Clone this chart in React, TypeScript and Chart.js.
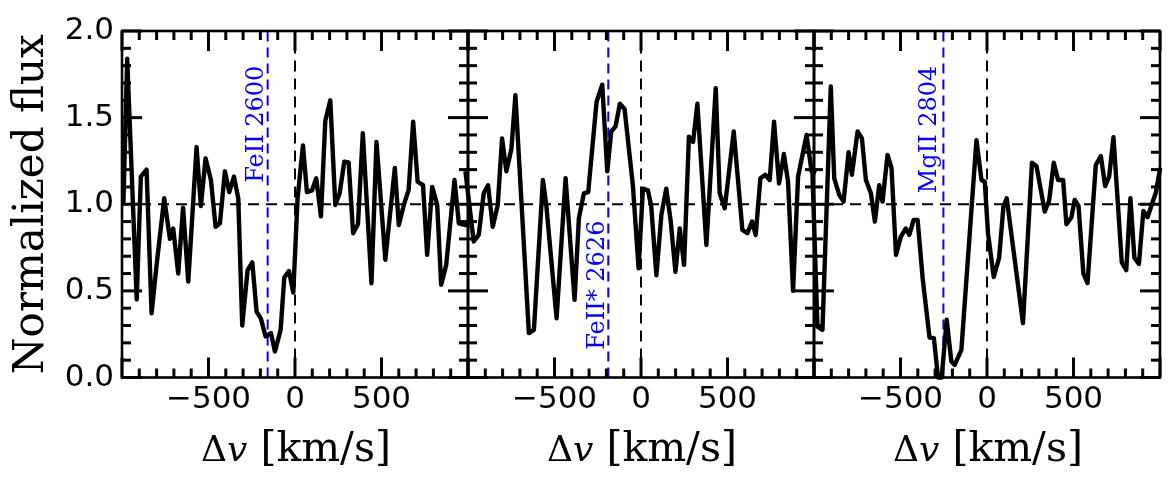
import React, { useEffect, useRef } from 'react';
import { Chart, registerables } from 'chart.js';

Chart.register(...registerables);

// ---------------------------------------------------------------------------
// Data: velocity offsets (km/s) and normalized flux for each transition
// ---------------------------------------------------------------------------
const velocityTicks = [-500, 0, 500];
const fluxTicks = [0, 0.5, 1.0, 1.5, 2.0];

const fe2600Velocity = [
  -992, -970, -915, -891, -858, -829, -800, -756, -723, -704, -675, -647, -617, -569, -544, -517,
  -486, -459, -434, -405, -380, -353, -328, -305, -274, -247, -222, -197, -170, -139, -116, -83,
  -62, -35, -10, 15, 46, 69, 98, 123, 150, 175, 204, 233, 258, 285, 310, 336, 364, 392, 442, 471,
  522, 577, 600, 629, 657, 683, 709, 740, 764, 793, 822, 845, 874, 922, 947, 986, 1020,
];
const fe2600Flux = [
  1.0, 1.84, 0.45, 1.16, 1.2, 0.37, 0.65, 1.035, 0.8, 0.86, 0.6, 0.98, 0.554, 1.33, 0.99, 1.265,
  1.14, 0.87, 0.89, 1.19, 1.07, 1.16, 1.035, 0.3, 0.62, 0.665, 0.38, 0.34, 0.237, 0.256, 0.15, 0.275,
  0.577, 0.615, 0.49, 1.035, 1.34, 1.07, 1.08, 1.15, 0.93, 1.48, 1.6, 0.996, 1.063, 1.246, 1.242,
  0.833, 0.885, 1.41, 0.544, 1.36, 0.68, 1.21, 0.88, 0.996, 1.083, 1.477, 1.13, 1.11, 0.708, 1.1,
  0.996, 0.535, 0.65, 1.14, 0.89, 0.88, 0.88,
];

const fe2626Velocity = [
  -1015, -967, -938, -909, -884, -857, -828, -803, -778, -749, -726, -648, -619, -567, -548, -488,
  -436, -384, -359, -330, -305, -257, -224, -195, -172, -147, -122, -95, -47, -14, 11, 40, 59, 89,
  118, 146, 172, 199, 224, 249, 277, 301, 326, 378, 432, 455, 484, 536, 586, 615, 642, 663, 690,
  719, 744, 769, 798, 826, 850, 879, 908, 957, 986, 1012,
];
const fe2626Flux = [
  1.19, 0.785, 0.823, 1.063, 1.11, 0.87, 0.996, 1.38, 1.19, 1.32, 1.63, 0.256, 0.275, 1.14, 1.0,
  0.342, 1.15, 0.448, 0.92, 1.063, 1.07, 1.59, 1.69, 1.19, 1.42, 1.45, 1.58, 1.55, 1.11, 0.63, 1.09,
  1.08, 0.99, 0.59, 0.94, 1.09, 0.9, 0.61, 0.86, 0.65, 1.39, 1.36, 1.58, 0.765, 1.67, 1.063, 0.977,
  1.42, 0.852, 0.833, 0.9, 0.823, 1.15, 1.17, 1.14, 1.477, 1.12, 1.29, 1.13, 0.5, 1.16, 1.4, 1.19,
  1.18,
];

const mg2804Velocity = [
  -1009, -980, -951, -903, -883, -854, -829, -800, -781, -748, -723, -700, -671, -648, -623, -604,
  -575, -552, -526, -498, -469, -449, -424, -401, -372, -332, -307, -283, -262, -233, -206, -187,
  -148, -61, -32, -13, 6, 39, 70, 95, 114, 208, 260, 286, 334, 359, 386, 411, 440, 459, 488, 507,
  529, 557, 581, 629, 658, 683, 706, 731, 779, 805, 829, 852, 878, 904, 928, 976, 1001,
];
const mg2804Flux = [
  1.18, 0.294, 0.275, 1.68, 1.15, 1.054, 1.015, 1.3, 1.17, 1.42, 1.38, 1.14, 1.063, 0.9, 1.11,
  1.015, 1.285, 1.21, 0.708, 0.813, 0.86, 0.823, 0.91, 0.91, 0.573, 0.23, 0.227, 0.0, 0.0, 0.333,
  0.092, 0.073, 0.16, 1.37, 1.14, 1.13, 0.83, 0.58, 0.69, 0.987, 1.035, 0.314, 1.24, 1.22, 0.958,
  1.02, 1.24, 1.14, 1.14, 0.885, 0.925, 1.025, 0.99, 0.6, 0.545, 1.227, 1.278, 1.105, 1.16, 1.387,
  0.665, 0.62, 1.035, 0.69, 0.655, 0.962, 0.925, 1.068, 1.21,
];

const transitionLabels = ['FeII 2600', 'FeII* 2626', 'MgII 2804'];
const transitionVelocity = [-158, -189, -252];

// ---------------------------------------------------------------------------
// Layout and styling
// ---------------------------------------------------------------------------
const WIDTH = 1175;
const HEIGHT = 484;
const PANEL_LEFT = [122, 468, 814];
const PANEL_WIDTH = 346;
const PLOT_TOP = 31;
const PLOT_BOTTOM = 377.5;
const X_RANGE = [-1000, 1000];
const Y_RANGE = [0, 2];

const SERIF = '"DejaVu Serif", serif';
const SANS = '"DejaVu Sans", sans-serif';
const LINE_BLUE = '#0000ff';

// where each transition label sits: flux value, which end of the text is pinned, gap to its line (px)
const labelPlacement = [
  { at: 1.8, anchor: 'end', gap: 5 },
  { at: 0.16, anchor: 'start', gap: 4 },
  { at: 1.8, anchor: 'end', gap: 7 },
];

const panels = [
  { velocity: fe2600Velocity, flux: fe2600Flux },
  { velocity: fe2626Velocity, flux: fe2626Flux },
  { velocity: mg2804Velocity, flux: mg2804Flux },
];

function segment(ctx: CanvasRenderingContext2D, x1: number, y1: number, x2: number, y2: number) {
  ctx.beginPath();
  ctx.moveTo(x1, y1);
  ctx.lineTo(x2, y2);
  ctx.stroke();
}

// Reference lines, transition marker, inward ticks, frame and the velocity axis title
const panelDecor = {
  id: 'panelDecor',
  beforeDatasetsDraw(chart: any, _args: any, opts: any) {
    const { ctx, chartArea: a } = chart;
    const x = chart.scales.x;
    const y = chart.scales.y;
    ctx.save();
    ctx.lineCap = 'butt';

    // continuum level and systemic velocity
    ctx.strokeStyle = '#000';
    ctx.lineWidth = 2;
    ctx.setLineDash([11, 7]);
    const yOne = y.getPixelForValue(1);
    segment(ctx, a.left, yOne, a.right, yOne);
    const xZero = x.getPixelForValue(0);
    segment(ctx, xZero, a.bottom, xZero, a.top);

    // transition marker
    const xl = x.getPixelForValue(opts.velocity);
    ctx.strokeStyle = LINE_BLUE;
    ctx.lineWidth = 2;
    ctx.setLineDash([10, 6]);
    segment(ctx, xl, a.bottom, xl, a.top);

    ctx.setLineDash([]);
    ctx.fillStyle = LINE_BLUE;
    ctx.font = `24px ${SERIF}`;
    ctx.textBaseline = 'alphabetic';
    ctx.textAlign = opts.anchor === 'end' ? 'right' : 'left';
    ctx.translate(xl - opts.gap, y.getPixelForValue(opts.at));
    ctx.rotate(-Math.PI / 2);
    ctx.fillText(opts.label, 0, 0);
    ctx.restore();
  },
  afterDatasetsDraw(chart: any) {
    const { ctx, chartArea: a } = chart;
    const x = chart.scales.x;
    const y = chart.scales.y;
    ctx.save();
    ctx.strokeStyle = '#000';
    ctx.lineCap = 'butt';
    ctx.setLineDash([]);

    // velocity ticks: major every 500 km/s, minor every 100 km/s
    for (let i = -10; i <= 10; i++) {
      const major = i % 5 === 0;
      const len = major ? 20 : 9;
      ctx.lineWidth = 3;
      const px = x.getPixelForValue(i * 100);
      segment(ctx, px, a.bottom, px, a.bottom - len);
      segment(ctx, px, a.top, px, a.top + len);
    }
    // flux ticks: major every 0.5, minor every 0.1
    for (let j = 0; j <= 20; j++) {
      const major = j % 5 === 0;
      const len = major ? 20 : 9;
      ctx.lineWidth = 3;
      const py = y.getPixelForValue(j * 0.1);
      segment(ctx, a.left, py, a.left + len, py);
      segment(ctx, a.right, py, a.right - len, py);
    }
    ctx.lineWidth = 2.6;
    ctx.strokeRect(a.left, a.top, a.right - a.left, a.bottom - a.top);
    ctx.restore();
  },
  afterDraw(chart: any) {
    const { ctx, chartArea: a } = chart;
    const parts = [
      { text: '\u0394', font: `36px ${SERIF}` },
      { text: 'v', font: `italic 36px ${SERIF}` },
      { text: ' [km/s]', font: `41px ${SERIF}` },
    ];
    ctx.save();
    ctx.fillStyle = '#000';
    ctx.textAlign = 'left';
    ctx.textBaseline = 'alphabetic';
    let total = 0;
    const widths = parts.map((p) => {
      ctx.font = p.font;
      const w = ctx.measureText(p.text).width;
      total += w;
      return w;
    });
    let cx = (a.left + a.right) / 2 + 1 - total / 2;
    const baseline = 461;
    parts.forEach((p, i) => {
      ctx.font = p.font;
      ctx.fillText(p.text, cx, baseline);
      cx += widths[i];
    });
    ctx.restore();
  },
};

function formatVelocity(v: number) {
  return v < 0 ? '\u2212' + Math.abs(v) : String(v);
}

function buildConfig(k: number): any {
  const { velocity, flux } = panels[k];
  const first = k === 0;
  const left = PANEL_LEFT[k];
  return {
    type: 'line',
    data: {
      datasets: [
        {
          data: velocity.map((v, i) => ({ x: v, y: flux[i] })),
          borderColor: '#000',
          borderWidth: 4.4,
          borderJoinStyle: 'round',
          borderCapStyle: 'butt',
          pointRadius: 0,
          tension: 0,
          fill: false,
          clip: false,
        },
      ],
    },
    options: {
      responsive: false,
      animation: false,
      devicePixelRatio: 1,
      events: [],
      layout: {
        padding: {
          left: first ? 0 : left,
          right: WIDTH - (left + PANEL_WIDTH),
          top: PLOT_TOP,
          bottom: 0,
        },
      },
      plugins: {
        legend: { display: false },
        tooltip: { enabled: false },
        panelDecor: {
          velocity: transitionVelocity[k],
          label: transitionLabels[k],
          at: labelPlacement[k].at,
          anchor: labelPlacement[k].anchor,
          gap: labelPlacement[k].gap,
        },
      },
      scales: {
        x: {
          type: 'linear',
          position: 'bottom',
          min: X_RANGE[0],
          max: X_RANGE[1],
          afterBuildTicks: (axis: any) => {
            axis.ticks = velocityTicks.map((value) => ({ value }));
          },
          afterFit: (axis: any) => {
            axis.height = HEIGHT - PLOT_BOTTOM;
          },
          ticks: {
            callback: (v: number) => formatVelocity(v),
            font: { family: SANS, size: 31, lineHeight: 1 },
            color: '#000',
            padding: 7,
            maxRotation: 0,
            autoSkip: false,
          },
          grid: { display: false, drawTicks: false },
          border: { display: false },
        },
        y: {
          type: 'linear',
          position: 'left',
          display: first,
          min: Y_RANGE[0],
          max: Y_RANGE[1],
          afterBuildTicks: (axis: any) => {
            axis.ticks = fluxTicks.map((value) => ({ value }));
          },
          afterFit: (axis: any) => {
            axis.width = first ? PANEL_LEFT[0] : 0;
          },
          ticks: {
            callback: (v: number) => v.toFixed(1),
            font: { family: SANS, size: 31, lineHeight: 1 },
            color: '#000',
            padding: 8,
            autoSkip: false,
          },
          title: {
            display: true,
            text: 'Normalized flux',
            font: { family: SERIF, size: 42, lineHeight: 1 },
            color: '#000',
            padding: { top: 11, bottom: 0 },
          },
          grid: { display: false, drawTicks: false },
          border: { display: false },
        },
      },
    },
    plugins: [panelDecor],
  };
}

export default function App() {
  const canvases = useRef<(HTMLCanvasElement | null)[]>([]);

  useEffect(() => {
    const charts = panels.map((_, k) => new Chart(canvases.current[k] as HTMLCanvasElement, buildConfig(k)));
    return () => charts.forEach((c) => c.destroy());
  }, []);

  return (
    <div
      style={{
        position: 'fixed',
        left: 0,
        top: 0,
        width: WIDTH,
        height: HEIGHT,
        background: '#fff',
        overflow: 'hidden',
      }}
    >
      {panels.map((_, k) => (
        <canvas
          key={k}
          ref={(el) => {
            canvases.current[k] = el;
          }}
          width={WIDTH}
          height={HEIGHT}
          style={{ position: 'absolute', left: 0, top: 0, width: WIDTH, height: HEIGHT }}
        />
      ))}
    </div>
  );
}
